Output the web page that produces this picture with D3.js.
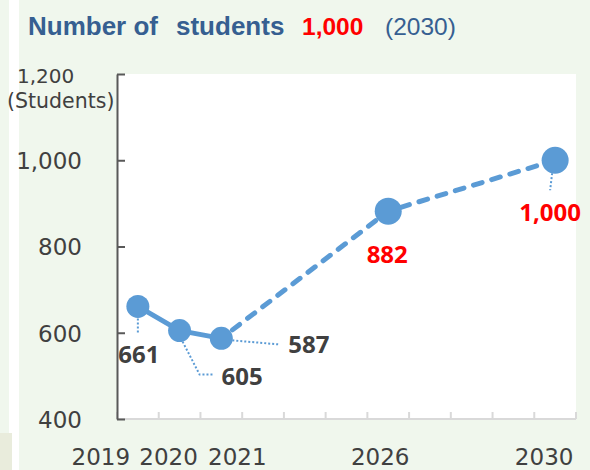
<!DOCTYPE html>
<meta charset="utf-8">
<style>
body { margin: 0; background: #f0f7ed; }
svg { display: block; }
.ytick text, .xlab { font: 23px "DejaVu Sans", sans-serif; fill: #404040; }
.dlab { font: bold 24px "Noto Sans", sans-serif; }
.leader { fill: none; stroke: #5b9bd5; stroke-width: 2; stroke-dasharray: 2,2; }
</style>
<body>
<script src="https://d3js.org/d3.v7.min.js"></script>
<script>

// categories on the x axis (blank slots keep the spacing of the original)
var years = ["2019", "2020", "2021", "", "", "", "2026", "", "", "", "2030"];
var students = [661, 605, 587, null, null, null, 882, null, null, null, 1000];
var labelText = ["661", "605", "587", "", "", "", "882", "", "", "", "1,000"];
var yTicks = [400, 600, 800, 1000, 1200];

var W = 590, H = 470;
var plot = {left: 117, right: 576, top: 74, bottom: 419};

var svg = d3.select("body").append("svg")
    .attr("width", W)
    .attr("height", H);

// page background bits
svg.append("rect").attr("x", 9).attr("y", 0).attr("width", 10).attr("height", H).attr("fill", "#fff");
svg.append("rect").attr("x", 0).attr("y", 433).attr("width", 12).attr("height", H - 433).attr("fill", "#e9ecdc");
svg.append("rect")
    .attr("x", plot.left).attr("y", plot.top)
    .attr("width", plot.right - plot.left).attr("height", plot.bottom - plot.top)
    .attr("fill", "#fff");

// title
var title = svg.append("text").attr("y", 35).style("font-family", "'Liberation Sans', Arial, sans-serif");
title.append("tspan").attr("x", 28).attr("font-size", 26).attr("font-weight", "bold").attr("fill", "#365f91").text("Number of");
title.append("tspan").attr("x", 176).attr("font-size", 26).attr("font-weight", "bold").attr("fill", "#365f91").text("students");
title.append("tspan").attr("x", 302).attr("font-size", 24.5).attr("font-weight", "bold").attr("fill", "#ff0000").text("1,000");
title.append("tspan").attr("x", 385).attr("font-size", 24.5).attr("fill", "#365f91").text("(2030)");

// scales
var idx = d3.range(years.length);
var x = d3.scaleBand().domain(idx).range([plot.left, plot.right]);
var y = d3.scaleLinear().domain([400, 1200]).range([plot.bottom, plot.top]);
var cx = function(i) { return x(i) + x.bandwidth() / 2; };

// x axis: light grey line with small upward ticks at band edges
var xg = svg.append("g");
xg.append("line")
    .attr("x1", plot.left).attr("x2", plot.right)
    .attr("y1", plot.bottom).attr("y2", plot.bottom)
    .attr("stroke", "#d9d9d9").attr("stroke-width", 2);
xg.selectAll(".xt").data(d3.range(years.length + 1)).enter().append("line")
    .attr("x1", function(i) { return plot.left + i * x.step(); })
    .attr("x2", function(i) { return plot.left + i * x.step(); })
    .attr("y1", plot.bottom).attr("y2", plot.bottom - 7)
    .attr("stroke", "#d9d9d9").attr("stroke-width", 2);

// x labels (sit a little off the band centres, as in the original)
var labelShift = {0: -37, 1: -11, 2: 16, 6: -8, 10: -11};
svg.selectAll(".xlab").data(idx.filter(function(i) { return years[i] !== ""; })).enter().append("text")
    .attr("class", "xlab")
    .attr("x", function(i) { return cx(i) + labelShift[i]; })
    .attr("y", 465)
    .attr("text-anchor", "middle")
    .text(function(i) { return years[i]; });

// y axis with inward ticks
var yAxis = d3.axisLeft(y)
    .tickValues(yTicks)
    .tickSizeInner(-8)
    .tickSizeOuter(0)
    .tickPadding(35)
    .tickFormat(function(d) { return d === 1200 ? "" : d3.format(",")(d); });
var yg = svg.append("g")
    .attr("class", "ytick")
    .attr("transform", "translate(" + plot.left + ",0)")
    .call(yAxis);
yg.select(".domain").attr("stroke", "#595959").attr("stroke-width", 2);
yg.selectAll(".tick line").attr("stroke", "#595959").attr("stroke-width", 2);
yg.selectAll(".tick text").attr("dy", "0.36em");

svg.append("text").attr("class", "xlab")
    .attr("x", 17).attr("y", y(1200) + 9)
    .style("font-size", "20px")
    .text(d3.format(",")(1200));
svg.append("text").attr("class", "xlab")
    .attr("x", 7).attr("y", 108)
    .style("font-size", "20.5px")
    .text("(Students)");

// line: solid for the actual years, dashed for the projection
var pts = idx.filter(function(i) { return students[i] !== null; });
var line = d3.line()
    .x(function(i) { return cx(i); })
    .y(function(i) { return y(students[i]); });

svg.append("path")
    .attr("d", line(pts.slice(0, 3)))
    .attr("fill", "none").attr("stroke", "#5b9bd5").attr("stroke-width", 5)
    .attr("stroke-linejoin", "round");
svg.append("path")
    .attr("d", line(pts.slice(2)))
    .attr("fill", "none").attr("stroke", "#5b9bd5").attr("stroke-width", 5)
    .attr("stroke-linecap", "round")
    .attr("stroke-dasharray", "9,10")
    .attr("stroke-dashoffset", -14);

// leader lines and data labels
var labelPos = {
  0: {dx: 1, dy: 57, anchor: "middle", color: "#404040", leader: [[0, 12], [0, 27]]},
  1: {dx: 42, dy: 54, anchor: "start", color: "#404040", leader: [[3, 11], [20, 44], [33, 44]]},
  2: {dx: 67, dy: 15, anchor: "start", color: "#404040", leader: [[11, 2], [57, 6]]},
  6: {dx: -1, dy: 52, anchor: "middle", color: "#ff0000", leader: null},
  10: {dx: -5, dy: 61, anchor: "middle", color: "#ff0000", leader: [[-3, 13], [-5, 30]]}
};

svg.selectAll(".leader").data(pts.filter(function(i) { return labelPos[i].leader; })).enter().append("path")
    .attr("class", "leader")
    .attr("d", function(i) {
      return d3.line()(labelPos[i].leader.map(function(p) { return [cx(i) + p[0], y(students[i]) + p[1]]; }));
    });

// actual years get slightly smaller markers than the projected ones
svg.selectAll(".dot").data(pts).enter().append("circle")
    .attr("cx", cx)
    .attr("cy", function(i) { return y(students[i]); })
    .attr("r", function(i) { return i <= 2 ? 11.5 : 13.5; })
    .attr("fill", "#5b9bd5");

svg.selectAll(".dlab").data(pts).enter().append("text")
    .attr("class", "dlab")
    .attr("x", function(i) { return cx(i) + labelPos[i].dx; })
    .attr("y", function(i) { return y(students[i]) + labelPos[i].dy; })
    .attr("text-anchor", function(i) { return labelPos[i].anchor; })
    .attr("fill", function(i) { return labelPos[i].color; })
    .text(function(i) { return labelText[i]; });

</script>
</body>
